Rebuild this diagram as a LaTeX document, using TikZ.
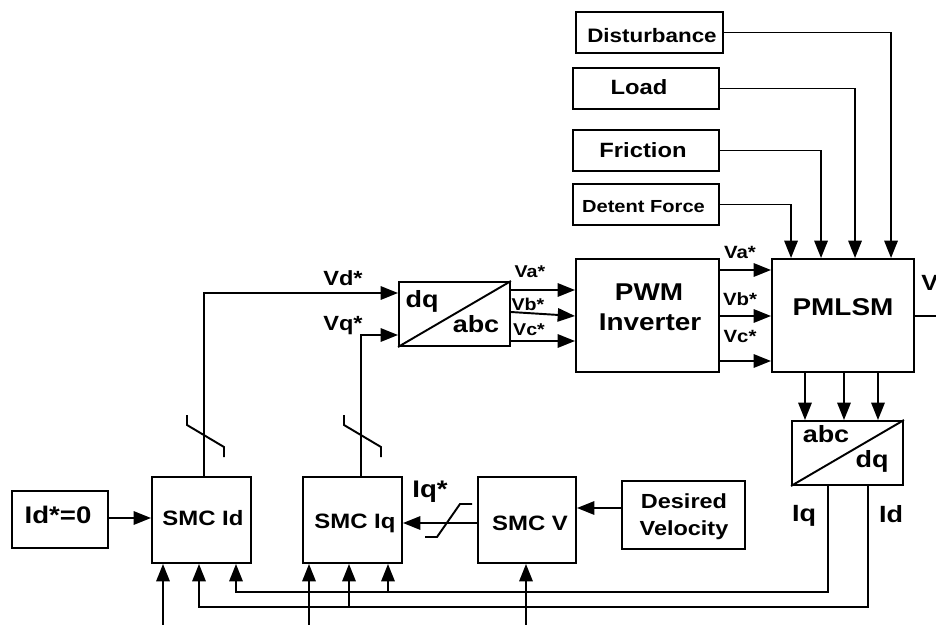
\documentclass[tikz,border=0pt]{standalone}
\usepackage{fontspec}
\setmainfont{Liberation Sans}[FakeStretch=1.15]
\usetikzlibrary{arrows.meta,fit,calc}
\newcommand\myfs[1]{\fontsize{#1}{#1}\selectfont\bfseries}
\begin{document}
\begin{tikzpicture}[x=0.75pt,y=-0.75pt,
 blk/.style={draw, line width=1.45pt, inner sep=0pt},
 ln/.style={line width=1.45pt},
 arr/.style={line width=1.45pt,-{Triangle[length=13pt,width=10pt]}},
 txt/.style={anchor=base, inner sep=0pt},
]
\useasboundingbox (0,0) rectangle (936,625);
% boxes
\node[blk, fit={(576,12)(723,53)}] (dist) {};
\node[blk, fit={(573,68)(719,109)}] (load) {};
\node[blk, fit={(573,130)(719,171)}] (fric) {};
\node[blk, fit={(573,184)(719,225)}] (det) {};
\node[blk, fit={(772,259)(914,372)}] (pm) {};
\node[blk, fit={(576,259)(719,372)}] (pwm) {};
\node[blk, fit={(399,282)(510,346)}] (dqabc) {};
\node[blk, fit={(792,421)(903,485)}] (abcdq) {};
\node[blk, fit={(152,477)(251,563)}] (smcid) {};
\node[blk, fit={(303,477)(402,563)}] (smciq) {};
\node[blk, fit={(478,477)(576,563)}] (smcv) {};
\node[blk, fit={(622,481)(745,549)}] (dv) {};
\node[blk, fit={(12,491)(108,548)}] (idref) {};
\draw[ln] (dqabc.south west) -- (dqabc.north east);
\draw[ln] (abcdq.south west) -- (abcdq.north east);
% texts
\node[txt,font=\myfs{14.6}] (tdist) at (652,42) {Disturbance};
\node[txt,font=\myfs{15.5}] (tload) at (639,94) {Load};
\node[txt,font=\myfs{15.5}] (tfric) at (643,157) {Friction};
\node[txt,font=\myfs{13.1}] (tdet) at (643.5,212) {Detent Force};
\node[txt,font=\myfs{18.2}] (tpm) at (843,315) {PMLSM};
\node[txt,font=\myfs{18.2}] (tpwm1) at (649,300) {PWM};
\node[txt,font=\myfs{18.2}] (tpwm2) at (650,330) {Inverter};
\node[txt,font=\myfs{17.6}] (tdq1) at (422,307) {dq};
\node[txt,font=\myfs{17.6}] (tabc1) at (476,332) {abc};
\node[txt,font=\myfs{17.6}] (tabc2) at (826,442) {abc};
\node[txt,font=\myfs{17.6}] (tdq2) at (872,467) {dq};
\node[txt,font=\myfs{17.6}] (tiq) at (804,521) {Iq};
\node[txt,font=\myfs{17.6}] (tid) at (891,522) {Id};
\node[txt,font=\myfs{18}] (tiqs) at (430,497) {Iq*};
\node[txt,font=\myfs{18}] (tidr) at (58,523) {Id*=0};
\node[txt,font=\myfs{15.6}] (tsid) at (203,525) {SMC Id};
\node[txt,font=\myfs{15.6}] (tsiq) at (355,528) {SMC Iq};
\node[txt,font=\myfs{15.6}] (tsv) at (530,530) {SMC V};
\node[txt,font=\myfs{15.3}] (tdv1) at (684,508) {Desired};
\node[txt,font=\myfs{15.3}] (tdv2) at (684,535) {Velocity};
\node[txt,font=\myfs{15.4}] (tvd) at (343,285) {Vd*};
\node[txt,font=\myfs{15.4}] (tvq) at (343,330) {Vq*};
\node[txt,font=\myfs{12.8}] (tva1) at (530,277) {Va*};
\node[txt,font=\myfs{12.8}] (tvb1) at (528,310) {Vb*};
\node[txt,font=\myfs{12.8}] (tvc1) at (529,335) {Vc*};
\node[txt,font=\myfs{13.3}] (tva2) at (740,258) {Va*};
\node[txt,font=\myfs{13.3}] (tvb2) at (740,305) {Vb*};
\node[txt,font=\myfs{13.3}] (tvc2) at (740,342) {Vc*};
\node[txt,anchor=base west,font=\myfs{16.5}] (tv) at (921,290) {V};
% disturbances into PMLSM
\draw[arr] (dist.east) -| ($(pm.north west)+(120,0)$);
\draw[arr] (load.east) -| ($(pm.north west)+(84,0)$);
\draw[arr] (fric.east) -| ($(pm.north west)+(50,0)$);
\draw[arr] (det.east) -| ($(pm.north west)+(20,0)$);
% dq/abc -> PWM
\draw[arr] (dqabc.east |- 0,290) -- (pwm.west |- 0,290);
\draw[arr] (dqabc.east |- 0,312) -- (pwm.west |- 0,316);
\draw[arr] (dqabc.east |- 0,341) -- (pwm.west |- 0,341);
% PWM -> PMLSM
\draw[arr] (pwm.east |- 0,270) -- (pm.west |- 0,270);
\draw[arr] (pwm.east |- 0,316) -- (pm.west |- 0,316);
\draw[arr] (pwm.east |- 0,361) -- (pm.west |- 0,361);
% PMLSM -> abc/dq
\draw[arr] (pm.south -| 805,0) -- (abcdq.north -| 805,0);
\draw[arr] (pm.south -| 844,0) -- (abcdq.north -| 844,0);
\draw[arr] (pm.south -| 878,0) -- (abcdq.north -| 878,0);
\coordinate (vout) at (940,316);
\draw[ln] (pm.east |- vout) -- (vout);
% Vd*, Vq*
\draw[arr] (smcid.north -| 204,0) |- (dqabc.west |- 0,293);
\draw[arr] (smciq.north -| 361,0) |- (dqabc.west |- 0,335);
% saturation symbols
\draw[ln] (187,415) -- (187,425) -- (224,447) -- (224,457);
\draw[ln] (344,415) -- (344,425) -- (381,447) -- (381,457);
\draw[ln] (472,504) -- (460,504) -- (437,537) -- (425,537);
% horizontal inputs
\draw[arr] (idref.east |- 0,518) -- (smcid.west |- 0,518);
\draw[arr] (dv.west |- 0,508) -- (smcv.east |- 0,508);
\draw[arr] (smcv.west |- 0,523) -- (smciq.east |- 0,523);
% feedback
\coordinate (iqc) at (236,592);
\coordinate (idc) at (199,607);
\coordinate (iqb) at (388,592);
\coordinate (idb) at (349,607);
\draw[arr] (abcdq.south -| 828,0) |- (iqc) -- (smcid.south -| iqc);
\draw[arr] (iqb) -- (smciq.south -| iqb);
\draw[arr] (abcdq.south -| 868,0) |- (idc) -- (smcid.south -| idc);
\draw[arr] (idb) -- (smciq.south -| idb);
\coordinate (b1) at (163,630);
\coordinate (b2) at (309,630);
\coordinate (b3) at (526,630);
\draw[arr] (b1) -- (smcid.south -| b1);
\draw[arr] (b2) -- (smciq.south -| b2);
\draw[arr] (b3) -- (smcv.south -| b3);
\end{tikzpicture}
\end{document}
